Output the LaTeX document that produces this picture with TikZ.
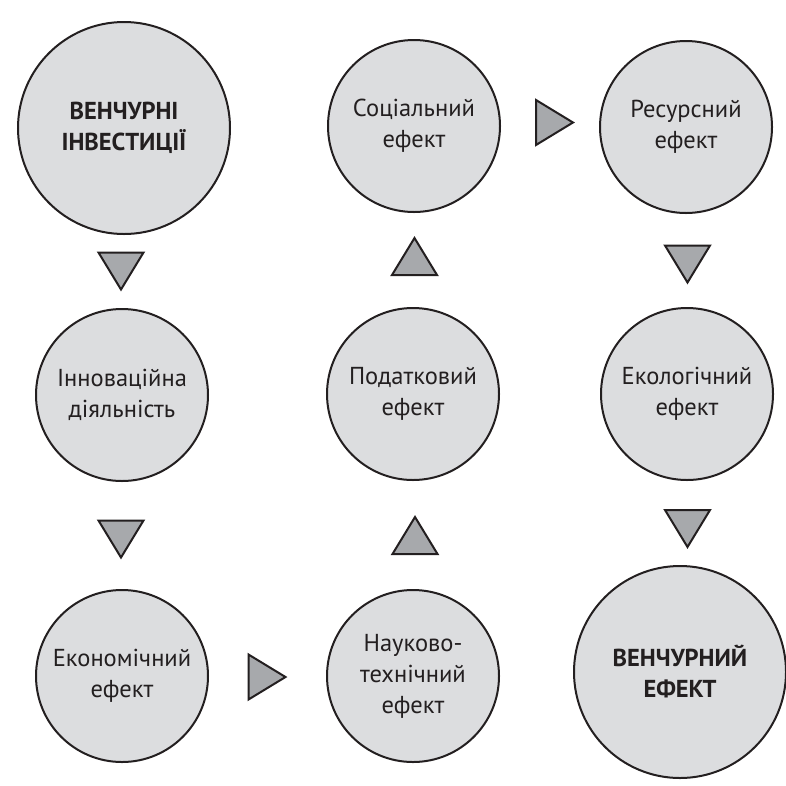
\documentclass[tikz,border=0pt]{standalone}
\usepackage{fontspec}
\setmainfont{PT Sans}
\usetikzlibrary{calc}
\definecolor{cfill}{HTML}{DCDDDF}
\definecolor{tfill}{HTML}{A7A9AC}
\definecolor{ink}{HTML}{231F20}
\begin{document}
\begin{tikzpicture}[x=1pt,y=-1pt,
  circ/.style={circle, draw=ink, line width=2pt, fill=cfill, text=ink, align=center, inner sep=0pt,
    font=\fontsize{24.5}{31}\selectfont},
  smallc/.style={circ, minimum size=172pt},
  bigc/.style={circ, minimum size=212pt, font=\fontsize{24.5}{31}\selectfont\bfseries},
  tri/.pic={\draw[draw=ink, line width=2pt, fill=tfill, line join=miter]
     (-19,-22.5) -- (18,0) -- (-19,22.5) -- cycle;}]
\useasboundingbox (0,0) rectangle (786,785);
\node[bigc]   (vi) at (124,128) {ВЕНЧУРНІ\\ІНВЕСТИЦІЇ};
\node[smallc] (in) at (122,395) {Інноваційна\\діяльність};
\node[smallc] (ek) at (122,676) {Економічний\\ефект};
\node[smallc] (nt) at (413,676) {Науково-\\технічний\\ефект};
\node[smallc] (pd) at (413,394) {Податковий\\ефект};
\node[smallc] (so) at (414,126) {Соціальний\\ефект};
\node[smallc] (rs) at (686,127) {Ресурсний\\ефект};
\node[smallc] (el) at (687,394) {Екологічний\\ефект};
\node[bigc]   (ve) at (680,672) {ВЕНЧУРНИЙ\\ЕФЕКТ};
% arrow triangles between nodes
\pic[rotate=-90] at ($(vi.south)!0.5!(in.north)+(-2,0)$) {tri};
\pic[rotate=-90] at ($(in.south)!0.5!(ek.north)+(-1,4)$) {tri};
\pic             at ($(ek.east)!0.5!(nt.west)+(0,1)$) {tri};
\pic[rotate=90]  at ($(nt.north)!0.5!(pd.south)+(2,0)$) {tri};
\pic[rotate=90]  at ($(pd.north)!0.5!(so.south)+(1,-4)$) {tri};
\pic             at ($(so.east)!0.5!(rs.west)+(5,-4)$) {tri};
\pic[rotate=-90] at ($(rs.south)!0.5!(el.north)+(1,4)$) {tri};
\pic[rotate=-90] at ($(el.south)!0.5!(ve.north)+(4,6)$) {tri};
\end{tikzpicture}
\end{document}
